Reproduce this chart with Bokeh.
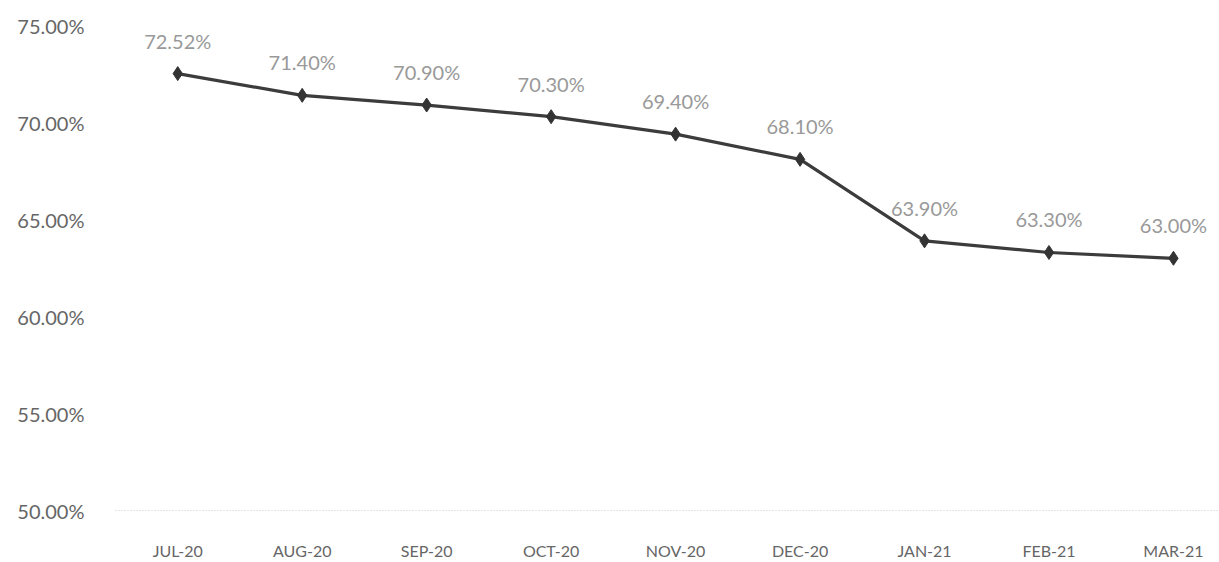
from bokeh.plotting import figure
from bokeh.models import ColumnDataSource, Range1d, FixedTicker, NumeralTickFormatter
from bokeh.core.properties import value
from bokeh.embed import file_html
from bokeh.resources import INLINE

months = ["JUL-20", "AUG-20", "SEP-20", "OCT-20", "NOV-20", "DEC-20", "JAN-21", "FEB-21", "MAR-21"]
rates = [72.52, 71.40, 70.90, 70.30, 69.40, 68.10, 63.90, 63.30, 63.00]
y_ticks = [50, 55, 60, 65, 70, 75]

idx = list(range(len(months)))
src = ColumnDataSource(dict(x=idx, y=rates, lab=[f"{v:.2f}%" for v in rates]))

p = figure(width=1219, height=562, output_backend="svg", toolbar_location=None,
           x_range=Range1d(-0.5, 8.37), y_range=Range1d(50, 75),
           min_border_left=115, min_border_right=0, min_border_top=25, min_border_bottom=45)
p.outline_line_color = None
p.background_fill_color = "white"
p.border_fill_color = "white"
p.xgrid.grid_line_color = None
p.ygrid.grid_line_color = None

p.line("x", "y", source=src, line_color="#3c3c3c", line_width=3.2)
p.scatter("x", "y", source=src, marker="diamond", size=14, fill_color="#333333", line_color="#333333")
p.text("x", "y", text="lab", source=src, y_offset=-33, text_align="center", text_baseline="middle",
       text_font=value("Lato"), text_font_size="20px", text_color="#999999")

xa = p.xaxis[0]
xa.ticker = FixedTicker(ticks=idx)
xa.major_label_overrides = {i: m for i, m in zip(idx, months)}
xa.axis_line_color = "#cccccc"
xa.axis_line_dash = "1 2"
xa.axis_line_width = 1
xa.major_tick_line_color = None
xa.minor_tick_line_color = None
xa.major_label_standoff = 24
xa.major_label_text_font = "Lato"
xa.major_label_text_font_size = "16px"
xa.major_label_text_color = "#666666"

ya = p.yaxis[0]
ya.ticker = FixedTicker(ticks=y_ticks)
ya.formatter = NumeralTickFormatter(format="0.00")
ya.major_label_overrides = {t: f"{t:.2f}%" for t in y_ticks}
ya.axis_line_color = None
ya.major_tick_line_color = None
ya.minor_tick_line_color = None
ya.major_label_standoff = 25
ya.major_label_text_font = "Lato"
ya.major_label_text_font_size = "20px"
ya.major_label_text_color = "#666666"

open("out.html", "w").write(file_html(p, INLINE))
